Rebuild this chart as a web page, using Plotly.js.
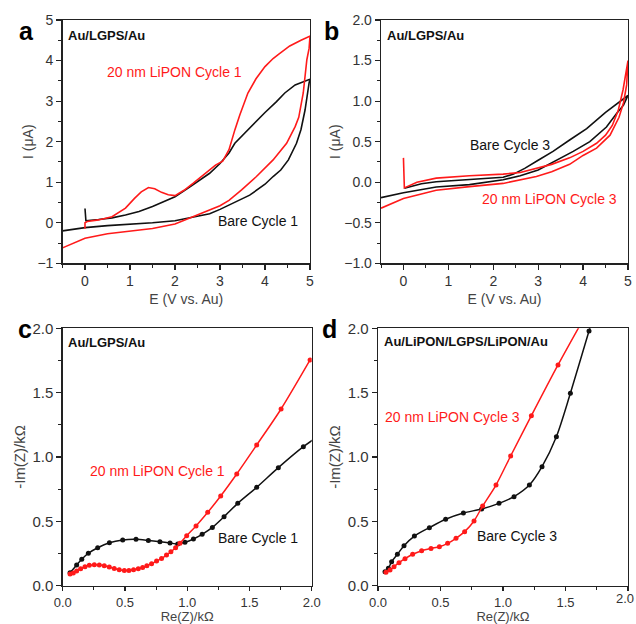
<!DOCTYPE html>
<html>
<head>
<meta charset="utf-8">
<script src="https://cdn.plot.ly/plotly-3.0.1.min.js"></script>
<style>html,body{margin:0;padding:0;background:#fff}#chart{width:636px;height:624px}</style>
</head>
<body>
<div id="chart"></div>
<script>
// Panel a: CV, Au/LGPS/Au, cycle 1
const aBareE = [0, 0.02, 0.3, 0.6, 0.9, 1.2, 1.5, 1.8, 2.0, 2.3, 2.5, 2.77, 3.0, 3.2, 3.33, 3.5, 3.75, 4.0, 4.25, 4.44, 4.67, 4.8, 5.0,
  4.98, 4.93, 4.89, 4.8, 4.7, 4.52, 4.35, 4.18, 4.0, 3.66, 3.33, 3.0, 2.77, 2.5, 2.0, 1.5, 1.0, 0.5, 0, -0.5];
const aBareI = [0.35, 0.05, 0.08, 0.12, 0.19, 0.28, 0.4, 0.54, 0.64, 0.86, 1.01, 1.22, 1.46, 1.72, 1.96, 2.15, 2.45, 2.72, 2.98, 3.2, 3.4, 3.45, 3.54,
  3.45, 3.1, 2.78, 2.3, 1.96, 1.55, 1.3, 1.14, 0.95, 0.68, 0.5, 0.33, 0.22, 0.16, 0.05, 0.0, -0.03, -0.07, -0.12, -0.2];
const aLiponE = [0, 0, 0.05, 0.3, 0.6, 0.9, 1.1, 1.25, 1.41, 1.55, 1.7, 1.85, 2.0, 2.2, 2.4, 2.6, 2.77, 2.9, 3.06, 3.2, 3.33, 3.44, 3.62, 3.8, 4.0, 4.18, 4.3, 4.55, 4.8, 5.0,
  4.98, 4.93, 4.85, 4.75, 4.67, 4.48, 4.18, 4.0, 3.81, 3.48, 3.2, 3.0, 2.5, 2.0, 1.5, 1.0, 0.5, 0, -0.5];
const aLiponI = [-0.15, 0.0, 0.03, 0.07, 0.15, 0.36, 0.6, 0.76, 0.87, 0.84, 0.75, 0.69, 0.67, 0.8, 0.97, 1.15, 1.32, 1.42, 1.52, 1.8, 2.29, 2.66, 3.2, 3.55, 3.85, 4.05, 4.15, 4.36, 4.5, 4.6,
  4.3, 4.02, 3.2, 2.6, 2.37, 1.96, 1.55, 1.35, 1.14, 0.81, 0.55, 0.42, 0.2, -0.03, -0.14, -0.2, -0.27, -0.38, -0.62];

// Panel b: CV, Au/LGPS/Au, cycle 3
const bBareE = [0.02, 0.4, 0.73, 1.1, 1.47, 1.85, 2.22, 2.45, 2.7, 3.0, 3.33, 3.7, 4.08, 4.5, 4.75, 5.0,
  4.9, 4.75, 4.52, 4.15, 3.78, 3.41, 3.0, 2.6, 2.22, 1.47, 0.73, 0, -0.5];
const bBareI = [-0.075, -0.02, 0.006, 0.02, 0.035, 0.045, 0.06, 0.1, 0.17, 0.27, 0.38, 0.52, 0.66, 0.86, 0.97, 1.07,
  0.95, 0.85, 0.68, 0.5, 0.38, 0.27, 0.15, 0.08, 0.03, -0.03, -0.06, -0.13, -0.19];
const bLiponE = [0, 0.02, 0.3, 0.73, 1.47, 2.22, 2.6, 2.96, 3.3, 3.7, 4.0, 4.3, 4.5, 4.65, 4.78, 4.89, 5.0,
  4.97, 4.9, 4.8, 4.6, 4.3, 4.0, 3.7, 3.3, 2.96, 2.22, 1.47, 0.73, 0, -0.5];
const bLiponI = [0.3, -0.07, 0.0, 0.05, 0.08, 0.1, 0.12, 0.17, 0.22, 0.3, 0.38, 0.48, 0.58, 0.7, 0.88, 1.14, 1.5,
  1.2, 0.98, 0.8, 0.58, 0.42, 0.33, 0.22, 0.13, 0.07, -0.015, -0.055, -0.1, -0.2, -0.32];

// Panel c: EIS, Au/LGPS/Au, cycle 1
const cBareRe = [0.059, 0.112, 0.153, 0.206, 0.281, 0.375, 0.482, 0.589, 0.688, 0.781, 0.862, 0.924, 0.982, 1.05, 1.12, 1.202, 1.296, 1.406, 1.558, 1.732, 1.933, 2.05];
const cBareIm = [0.1, 0.161, 0.205, 0.252, 0.295, 0.334, 0.355, 0.36, 0.352, 0.342, 0.332, 0.324, 0.337, 0.363, 0.399, 0.453, 0.536, 0.64, 0.764, 0.917, 1.08, 1.16];
const cLiponRe = [0.059, 0.085, 0.112, 0.144, 0.179, 0.214, 0.254, 0.294, 0.334, 0.374, 0.414, 0.454, 0.495, 0.532, 0.569, 0.607, 0.642, 0.676, 0.714, 0.754, 0.794, 0.834, 0.869, 0.907, 0.942, 0.996, 1.071, 1.165, 1.269, 1.398, 1.558, 1.754, 1.987];
const cLiponIm = [0.09, 0.098, 0.114, 0.132, 0.148, 0.158, 0.163, 0.161, 0.155, 0.145, 0.134, 0.124, 0.119, 0.119, 0.124, 0.132, 0.142, 0.155, 0.171, 0.192, 0.212, 0.238, 0.264, 0.295, 0.329, 0.389, 0.464, 0.57, 0.697, 0.868, 1.093, 1.373, 1.754];

// Panel d: EIS, Au/LiPON/LGPS/LiPON/Au, cycle 3
const dBareRe = [0.056, 0.083, 0.109, 0.155, 0.208, 0.291, 0.411, 0.541, 0.683, 0.829, 0.968, 1.088, 1.211, 1.312, 1.427, 1.539, 1.688, 1.72];
const dBareIm = [0.109, 0.135, 0.187, 0.244, 0.311, 0.386, 0.451, 0.516, 0.565, 0.596, 0.64, 0.692, 0.782, 0.925, 1.158, 1.495, 1.979, 2.08];
const dLiponRe = [0.064, 0.096, 0.128, 0.168, 0.216, 0.277, 0.349, 0.424, 0.491, 0.557, 0.624, 0.693, 0.768, 0.837, 0.944, 1.061, 1.227, 1.44, 1.66];
const dLiponIm = [0.104, 0.122, 0.148, 0.179, 0.21, 0.244, 0.272, 0.29, 0.303, 0.329, 0.368, 0.42, 0.503, 0.619, 0.782, 1.008, 1.321, 1.715, 2.1];

// last x tick label of panel d, which sits at the page edge
const dEdgeTick = ['2.0'];

const RED = '#ff1a1a', BLK = '#111111';
const FONT = 'Liberation Sans, Arial, sans-serif';

function cv(x, y, color, xa, ya) {
  return {x: x, y: y, mode: 'lines', line: {color: color, width: 1.6}, xaxis: xa, yaxis: ya, hoverinfo: 'skip'};
}
function eis(x, y, color, xa, ya) {
  return {x: x, y: y, mode: 'lines+markers', line: {color: color, width: 1.5, shape: 'spline', smoothing: 0.8},
    marker: {color: color, size: 5}, xaxis: xa, yaxis: ya, cliponaxis: true, hoverinfo: 'skip'};
}

const traces = [
  cv(aBareE, aBareI, BLK, 'x', 'y'),
  cv(aLiponE, aLiponI, RED, 'x', 'y'),
  cv(bBareE, bBareI, BLK, 'x2', 'y2'),
  cv(bLiponE, bLiponI, RED, 'x2', 'y2'),
  eis(cBareRe, cBareIm, BLK, 'x3', 'y3'),
  eis(cLiponRe, cLiponIm, RED, 'x3', 'y3'),
  eis(dBareRe, dBareIm, BLK, 'x4', 'y4'),
  eis(dLiponRe, dLiponIm, RED, 'x4', 'y4')
];

function axis(domain, range, dtick, minor, fmt, anchor, title, fs, standoff, tlen) {
  return {
    domain: domain, range: range, dtick: dtick, tick0: 0, tickformat: fmt, anchor: anchor,
    showgrid: false, zeroline: false, showline: true, mirror: true, linecolor: '#222', linewidth: 1.3,
    ticks: 'outside', ticklen: tlen || 5, tickwidth: 1.2, tickcolor: '#222',
    minor: {ticks: 'outside', ticklen: 3, tickwidth: 1, tickcolor: '#222', dtick: minor, tick0: 0, showgrid: false},
    tickfont: {family: FONT, size: fs, color: '#333'},
    title: {text: title, font: {family: FONT, size: fs, color: '#444'}, standoff: standoff},
    automargin: false, fixedrange: true
  };
}

const yTopDom = [1 - 263.3 / 624, 1 - 20 / 624];
const yBotDom = [1 - 585.7 / 624, 1 - 328.3 / 624];

const layout = {
  width: 636, height: 624,
  margin: {l: 0, r: 0, t: 0, b: 0},
  paper_bgcolor: '#fff', plot_bgcolor: '#fff',
  showlegend: false,
  font: {family: FONT},
  xaxis: axis([62.5 / 636, 310 / 636], [-0.5, 5], 1, 0.5, 'd', 'y', 'E (V vs. Au)', 14, 5),
  yaxis: axis(yTopDom, [-1, 5], 1, 0.5, 'd', 'x', 'I (μA)', 14, 0),
  xaxis2: axis([381 / 636, 628 / 636], [-0.5, 5], 1, 0.5, 'd', 'y2', 'E (V vs. Au)', 14, 5),
  yaxis2: axis(yTopDom, [-1, 2], 0.5, 0.25, '.1f', 'x2', 'I (μA)', 14, 0),
  xaxis3: axis([62.7 / 636, 311.7 / 636], [0, 2], 0.5, 0.25, '.1f', 'y3', 'Re(Z)/kΩ', 13, 6, 4),
  yaxis3: axis(yBotDom, [0, 2], 0.5, 0.25, '.1f', 'x3', '-Im(Z)/kΩ', 15, 3),
  xaxis4: axis([378 / 636, 628 / 636], [0, 2], 0.5, 0.25, '.1f', 'y4', 'Re(Z)/kΩ', 13, 6, 4),
  yaxis4: axis(yBotDom, [0, 2], 0.5, 0.25, '.1f', 'x4', '-Im(Z)/kΩ', 15, 3),
  annotations: [
    {text: '<b>a</b>', xref: 'paper', yref: 'paper', x: 17 / 636, y: 1 - 15 / 624, showarrow: false, font: {family: FONT, size: 25, color: '#000'}},
    {text: '<b>b</b>', xref: 'paper', yref: 'paper', x: 331 / 636, y: 1 - 15 / 624, showarrow: false, font: {family: FONT, size: 25, color: '#000'}},
    {text: '<b>c</b>', xref: 'paper', yref: 'paper', x: 16 / 636, y: 1 - 329 / 624, showarrow: false, font: {family: FONT, size: 25, color: '#000'}},
    {text: '<b>d</b>', xref: 'paper', yref: 'paper', x: 329 / 636, y: 1 - 329 / 624, showarrow: false, font: {family: FONT, size: 25, color: '#000'}},

    {text: dEdgeTick[0], xref: 'paper', yref: 'paper', x: 1, y: 1 - 598 / 624, xanchor: 'right', yanchor: 'middle', showarrow: false, font: {family: FONT, size: 13, color: '#333'}},

    {text: '<b>Au/LGPS/Au</b>', xref: 'x', yref: 'y', x: -0.42, y: 4.63, xanchor: 'left', showarrow: false, font: {family: FONT, size: 13, color: '#111'}},
    {text: '20 nm LiPON Cycle 1', xref: 'x', yref: 'y', x: 0.45, y: 3.72, xanchor: 'left', showarrow: false, font: {family: FONT, size: 14, color: RED}},
    {text: 'Bare Cycle 1', xref: 'x', yref: 'y', x: 2.92, y: 0.04, xanchor: 'left', showarrow: false, font: {family: FONT, size: 14, color: '#111'}},

    {text: '<b>Au/LGPS/Au</b>', xref: 'x2', yref: 'y2', x: -0.42, y: 1.815, xanchor: 'left', showarrow: false, font: {family: FONT, size: 13, color: '#111'}},
    {text: 'Bare Cycle 3', xref: 'x2', yref: 'y2', x: 1.43, y: 0.46, xanchor: 'left', showarrow: false, font: {family: FONT, size: 14, color: '#111'}},
    {text: '20 nm LiPON Cycle 3', xref: 'x2', yref: 'y2', x: 1.70, y: -0.21, xanchor: 'left', showarrow: false, font: {family: FONT, size: 14, color: RED}},

    {text: '<b>Au/LGPS/Au</b>', xref: 'x3', yref: 'y3', x: 0.027, y: 1.886, xanchor: 'left', showarrow: false, font: {family: FONT, size: 13, color: '#111'}},
    {text: '20 nm LiPON Cycle 1', xref: 'x3', yref: 'y3', x: 0.203, y: 0.894, xanchor: 'left', showarrow: false, font: {family: FONT, size: 14, color: RED}},
    {text: 'Bare Cycle 1', xref: 'x3', yref: 'y3', x: 1.233, y: 0.368, xanchor: 'left', showarrow: false, font: {family: FONT, size: 14, color: '#111'}},

    {text: '<b>Au/LiPON/LGPS/LiPON/Au</b>', xref: 'x4', yref: 'y4', x: 0.032, y: 1.9, xanchor: 'left', showarrow: false, font: {family: FONT, size: 13, color: '#111'}},
    {text: '20 nm LiPON Cycle 3', xref: 'x4', yref: 'y4', x: 0.04, y: 1.31, xanchor: 'left', showarrow: false, font: {family: FONT, size: 14, color: RED}},
    {text: 'Bare Cycle 3', xref: 'x4', yref: 'y4', x: 0.779, y: 0.386, xanchor: 'left', showarrow: false, font: {family: FONT, size: 14, color: '#111'}}
  ]
};

Plotly.newPlot('chart', traces, layout, {staticPlot: true, displayModeBar: false});
</script>
</body>
</html>
